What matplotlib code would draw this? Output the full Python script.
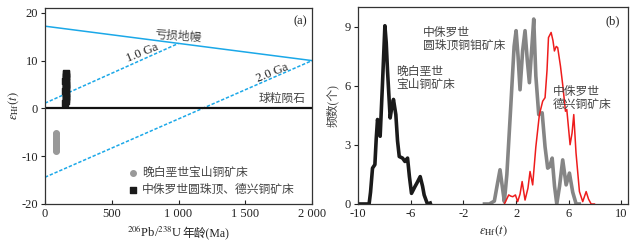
import matplotlib.pyplot as plt

plt.rcParams['font.family'] = ['Liberation Serif', 'Noto Sans CJK SC']
plt.rcParams['mathtext.fontset'] = 'stix'
plt.rcParams['axes.unicode_minus'] = False

# ---- panel (a): eHf(t) vs age ----
dm_age = [0, 2000]
dm_eps = [17.2, 10.0]
ga1_age = [0, 1000]
ga1_eps = [1.1, 13.6]
ga2_age = [0, 2000]
ga2_eps = [-14.4, 10.0]

bs_age = [80, 82, 84, 81, 83, 85, 80, 82, 84, 81, 83, 82, 84, 80, 83]
bs_eps = [-5.1, -5.4, -5.8, -6.1, -6.5, -6.8, -7.0, -7.3, -7.5, -7.8, -8.0, -8.3, -8.6, -8.9, -7.7]

yz_age = [153, 156, 158, 154, 157, 155, 158, 153, 156, 157, 154, 158, 155, 156, 153, 157, 155, 158, 154, 156]
yz_eps = [1.1, 1.5, 1.9, 2.3, 2.6, 3.0, 3.3, 3.7, 4.0, 4.3, 4.6, 4.9, 5.2, 5.5, 5.8, 6.1, 6.5, 6.8, 7.1, 7.5]

# ---- panel (b): histogram curves ----
bs_x = [-10.0, -9.16, -9.05, -8.9, -8.72, -8.62, -8.52, -8.42, -8.32, -8.15, -7.96, -7.86, -7.76,
        -7.56, -7.44, -7.31, -7.13, -7.0, -6.87, -6.62, -6.44, -6.24, -6.1, -5.94, -5.68, -5.5,
        -5.28, -5.1, -4.98, -4.73, -4.52]
bs_y = [0, 0, 0.6, 1.82, 2.0, 3.3, 4.29, 3.9, 3.44, 6.0, 9.05, 8.2, 6.75,
        4.37, 4.9, 5.31, 4.54, 3.2, 2.41, 2.33, 2.16, 2.33, 1.4, 0.54, 0.88, 1.1,
        1.39, 0.9, 0.46, 0, 0.05]

yzd_x = [-0.4, -0.03, 0.35, 0.55, 0.78, 0.95, 1.11, 1.3, 1.6, 1.85, 2.0, 2.15, 2.3, 2.5, 2.68, 2.85,
         3.01, 3.2, 3.34, 3.5, 3.72, 3.98, 4.2, 4.4, 4.55, 4.74, 4.92, 5.09, 5.3, 5.54, 5.8,
         6.05, 6.3, 6.56, 6.8]
yzd_y = [0, 0, 0.15, 0.9, 1.74, 0.9, 0.12, 1.5, 5.0, 8.0, 8.8, 7.5, 5.8, 7.8, 8.8, 7.3,
         6.16, 8.0, 9.39, 6.5, 4.54, 4.63, 2.9, 1.82, 1.9, 2.33, 0.9, 0.0, 0.9, 2.24, 0.97,
         1.57, 0.6, 0, 0]

dx_x = [1.11, 1.44, 1.6, 1.75, 1.95, 2.12, 2.3, 2.46, 2.68, 2.9, 3.06, 3.26, 3.5, 3.77, 4.02,
        4.2, 4.35, 4.46, 4.66, 4.8, 4.91, 5.05, 5.16, 5.37, 5.55, 5.75, 5.85, 6.1, 6.25, 6.38,
        6.55, 6.81, 7.06, 7.32, 7.5, 7.7, 7.95]
dx_y = [0, 0.46, 0.4, 0.37, 0.46, 0.12, 0.5, 1.14, 0.2, 0.8, 1.65, 0.97, 2.9, 4.54, 5.22,
        5.4, 6.8, 8.45, 8.71, 8.3, 7.77, 8.0, 7.94, 7.0, 6.0, 4.71, 4.8, 3.01, 3.6, 4.54,
        2.6, 0.63, 0.12, 0.63, 0.25, 0, 0]

fig = plt.figure(figsize=(6.31, 2.43), dpi=100)
ax1 = fig.add_axes([0.0713, 0.1605, 0.4232, 0.8065])
ax2 = fig.add_axes([0.5674, 0.1605, 0.4279, 0.8105])

blue = '#1ba8e8'
grey_txt = '#444444'

ax1.plot(dm_age, dm_eps, color=blue, lw=1.1)
ax1.plot(ga1_age, ga1_eps, color=blue, lw=1.1, ls=(0, (2.2, 1.2)))
ax1.plot(ga2_age, ga2_eps, color=blue, lw=1.1, ls=(0, (2.2, 1.2)))
ax1.axhline(0, color='#111111', lw=1.6)
ax1.scatter(bs_age, bs_eps, s=16, marker='o', color='#999999', label='晚白垩世宝山铜矿床', zorder=3)
ax1.scatter(yz_age, yz_eps, s=16, marker='s', color='#1a1a1a', label='中侏罗世圆珠顶、德兴铜矿床', zorder=3)
ax1.set_xlim(0, 2000)
ax1.set_ylim(-20, 21)
ax1.set_xticks([0, 500, 1000, 1500, 2000])
ax1.set_xticklabels(['0', '500', '1 000', '1 500', '2 000'])
ax1.set_yticks([-20, -10, 0, 10, 20])
ax1.text(1960, 19.5, '(a)', ha='right', va='top', fontsize=9, color='#222222')
ax1.text(1000, 15.0, '亏损地幔', ha='center', va='center', fontsize=8.5, color=grey_txt, rotation=-4)
ax1.text(730, 11.6, '1.0 Ga', ha='center', va='center', fontsize=9, color='#222222', rotation=22)
ax1.text(1700, 7.4, '2.0 Ga', ha='center', va='center', fontsize=9, color='#222222', rotation=22)
ax1.text(1950, 2.0, '球粒陨石', ha='right', va='center', fontsize=8.5, color=grey_txt)
leg = ax1.legend(loc='lower right', bbox_to_anchor=(0.965, 0.0), frameon=False, fontsize=8.5,
                 handletextpad=0.2, handlelength=1.0, borderaxespad=0.3, labelspacing=0.4)
for t in leg.get_texts():
    t.set_color(grey_txt)

# x label of (a): mathtext part + CJK part placed right after it
xl = ax1.text(0.5 + 0.015, -0.105, '$^{206}$Pb/$^{238}$U', transform=ax1.transAxes,
              ha='right', va='top', fontsize=9, color='#222222')
ax1.annotate('年龄(Ma)', xy=(1.0, 0.0), xycoords=xl, ha='left', va='bottom',
             fontsize=8.5, color='#222222')
ax1.set_ylabel(r'$\varepsilon_{\rm Hf}(t)$', fontsize=9, color='#222222', labelpad=0)

ax2.plot(bs_x, bs_y, color='#1a1a1a', lw=2.6, solid_joinstyle='round')
ax2.plot(yzd_x, yzd_y, color='#858585', lw=2.6, solid_joinstyle='round')
ax2.plot(dx_x, dx_y, color='#ee1c1c', lw=1.1)
ax2.set_xlim(-10, 10.5)
ax2.set_ylim(0, 10)
ax2.set_xticks([-10, -6, -2, 2, 6, 10])
ax2.set_yticks([0, 3, 6, 9])
ax2.text(9.9, 9.6, '(b)', ha='right', va='top', fontsize=9, color='#222222')
ax2.text(-5.1, 9.0, '中侏罗世\n圆珠顶铜钼矿床', ha='left', va='top', fontsize=8.5, color=grey_txt, linespacing=1.1)
ax2.text(-7.1, 7.0, '晚白垩世\n宝山铜矿床', ha='left', va='top', fontsize=8.5, color=grey_txt, linespacing=1.1)
ax2.text(4.8, 6.0, '中侏罗世\n德兴铜矿床', ha='left', va='top', fontsize=8.5, color=grey_txt, linespacing=1.1)
ax2.set_xlabel(r'$\varepsilon_{\rm Hf}(t)$', fontsize=9, color='#222222', labelpad=2)
ax2.set_ylabel('频数(个)', fontsize=8.5, color=grey_txt, labelpad=4)

for ax in (ax1, ax2):
    for s in ax.spines.values():
        s.set_color('#333333')
        s.set_linewidth(0.9)
    ax.tick_params(axis='x', direction='in', length=3, labelsize=9, colors='#222222', pad=3)
    ax.tick_params(axis='y', direction='out', length=3, labelsize=9, colors='#222222', pad=2)

fig.savefig('out.png', dpi=100)
